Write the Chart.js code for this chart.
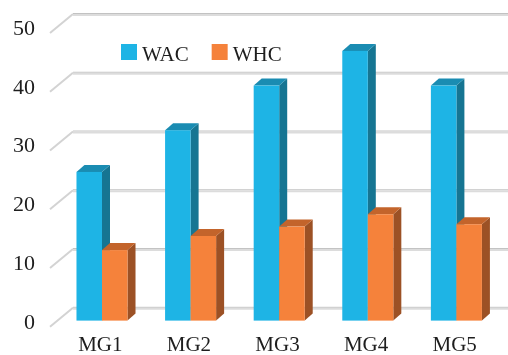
<!DOCTYPE html>
<html>
<head>
<meta charset="utf-8">
<script src="https://cdn.jsdelivr.net/npm/chart.js@4/dist/chart.umd.min.js"></script>
<style>
  html, body { margin: 0; padding: 0; background: #fff; }
  #wrap { width: 508px; height: 355px; }
</style>
</head>
<body>
<div id="wrap"><canvas id="c" width="508" height="355"></canvas></div>
<script>
// Categories and the two measured series
const categories = ['MG1', 'MG2', 'MG3', 'MG4', 'MG5'];
const wacValues = [25.3, 32.4, 40, 45.9, 40];
const whcValues = [12.0, 14.4, 16.0, 18.1, 16.4];
const yTicks = [0, 10, 20, 30, 40, 50];

const FONT = '"Liberation Serif", "DejaVu Serif", serif';
const TEXT = '#1E1E1E';

// Depth of the floor (front edge to back wall) and of each column
const FLOOR_DX = 23, FLOOR_DY = 19;
const BAR_DX = 8, BAR_DY = 7;
const BAR_SHIFT_X = 7.7, BAR_SHIFT_Y = 6.2;

const palette = [
  { front: '#1EB4E5', top: '#1A8CB2', side: '#167592' },
  { front: '#F5823B', top: '#C3642B', side: '#9C5125' }
];

function poly(ctx, pts, fill) {
  ctx.beginPath();
  ctx.moveTo(pts[0][0], pts[0][1]);
  for (let i = 1; i < pts.length; i++) ctx.lineTo(pts[i][0], pts[i][1]);
  ctx.closePath();
  ctx.fillStyle = fill;
  ctx.fill();
}

// Back-wall grid lines with the perspective return to the front edge,
// then the columns drawn as boxes from the bar elements' geometry.
const box3d = {
  id: 'box3d',
  beforeDatasetsDraw(chart) {
    const ctx = chart.ctx;
    const y = chart.scales.y;
    const area = chart.chartArea;
    ctx.save();
    yTicks.forEach(v => {
      const py = y.getPixelForValue(v);
      const bx = area.left + FLOOR_DX, by = py - FLOOR_DY;
      ctx.lineCap = 'butt';
      ctx.strokeStyle = '#D3D3D3';
      ctx.lineWidth = 2;
      ctx.beginPath();
      ctx.moveTo(area.left, py);
      ctx.lineTo(bx, by);
      ctx.stroke();
      ctx.strokeStyle = '#C2C2C2';
      ctx.lineWidth = 1;
      ctx.beginPath();
      ctx.moveTo(bx, by - 0.5);
      ctx.lineTo(chart.width, by - 0.5);
      ctx.stroke();
      ctx.strokeStyle = '#DCDCDC';
      ctx.lineWidth = 2;
      ctx.beginPath();
      ctx.moveTo(bx, by + 1);
      ctx.lineTo(chart.width, by + 1);
      ctx.stroke();
    });

    const metas = chart.data.datasets.map((d, i) => chart.getDatasetMeta(i));
    for (let j = 0; j < categories.length; j++) {
      metas.forEach((meta, i) => {
        const el = meta.data[j];
        if (!el) return;
        const c = palette[i];
        const half = el.width / 2;
        const xl = el.x - half + BAR_SHIFT_X;
        const xr = el.x + half + BAR_SHIFT_X;
        const yt = el.y - BAR_SHIFT_Y;
        const yb = el.base - BAR_SHIFT_Y;
        poly(ctx, [[xr, yt], [xr + BAR_DX, yt - BAR_DY], [xr + BAR_DX, yb - BAR_DY], [xr, yb]], c.side);
        poly(ctx, [[xl, yt], [xl + BAR_DX, yt - BAR_DY], [xr + BAR_DX, yt - BAR_DY], [xr, yt]], c.top);
        ctx.fillStyle = c.front;
        ctx.fillRect(xl, yt, xr - xl, yb - yt);
      });
    }
    ctx.restore();
    return false;
  },
  afterDraw(chart) {
    // Legend row inside the plot
    const ctx = chart.ctx;
    ctx.save();
    ctx.font = '21px ' + FONT;
    ctx.textBaseline = 'alphabetic';
    let x = 121;
    chart.data.datasets.forEach((ds, i) => {
      ctx.fillStyle = palette[i].front;
      ctx.fillRect(x, 44, 16, 16);
      ctx.fillStyle = TEXT;
      ctx.fillText(ds.label, x + 21, 60.5);
      x += 21 + ctx.measureText(ds.label).width + 23;
    });
    ctx.restore();
  }
};

new Chart(document.getElementById('c'), {
  type: 'bar',
  data: {
    labels: categories,
    datasets: [
      { label: 'WAC', data: wacValues, backgroundColor: palette[0].front },
      { label: 'WHC', data: whcValues, backgroundColor: palette[1].front }
    ]
  },
  options: {
    responsive: false,
    animation: false,
    devicePixelRatio: 1,
    layout: { padding: { top: 33, right: 15, bottom: 0, left: 0 } },
    datasets: { bar: { categoryPercentage: 0.576, barPercentage: 1.0 } },
    plugins: { legend: { display: false }, tooltip: { enabled: false } },
    scales: {
      x: {
        grid: { display: false, drawTicks: false },
        border: { display: false },
        ticks: { font: { family: FONT, size: 21 }, color: TEXT, padding: 6, labelOffset: 6 },
        afterFit(s) { s.height = 26; }
      },
      y: {
        min: 0, max: 50,
        afterBuildTicks(s) { s.ticks = yTicks.map(v => ({ value: v })); },
        grid: { display: false, drawTicks: false },
        border: { display: false },
        ticks: { font: { family: FONT, size: 22 }, color: TEXT, padding: 15, labelOffset: -4 },
        afterFit(s) { s.width = 50; }
      }
    }
  },
  plugins: [box3d]
});
</script>
</body>
</html>
